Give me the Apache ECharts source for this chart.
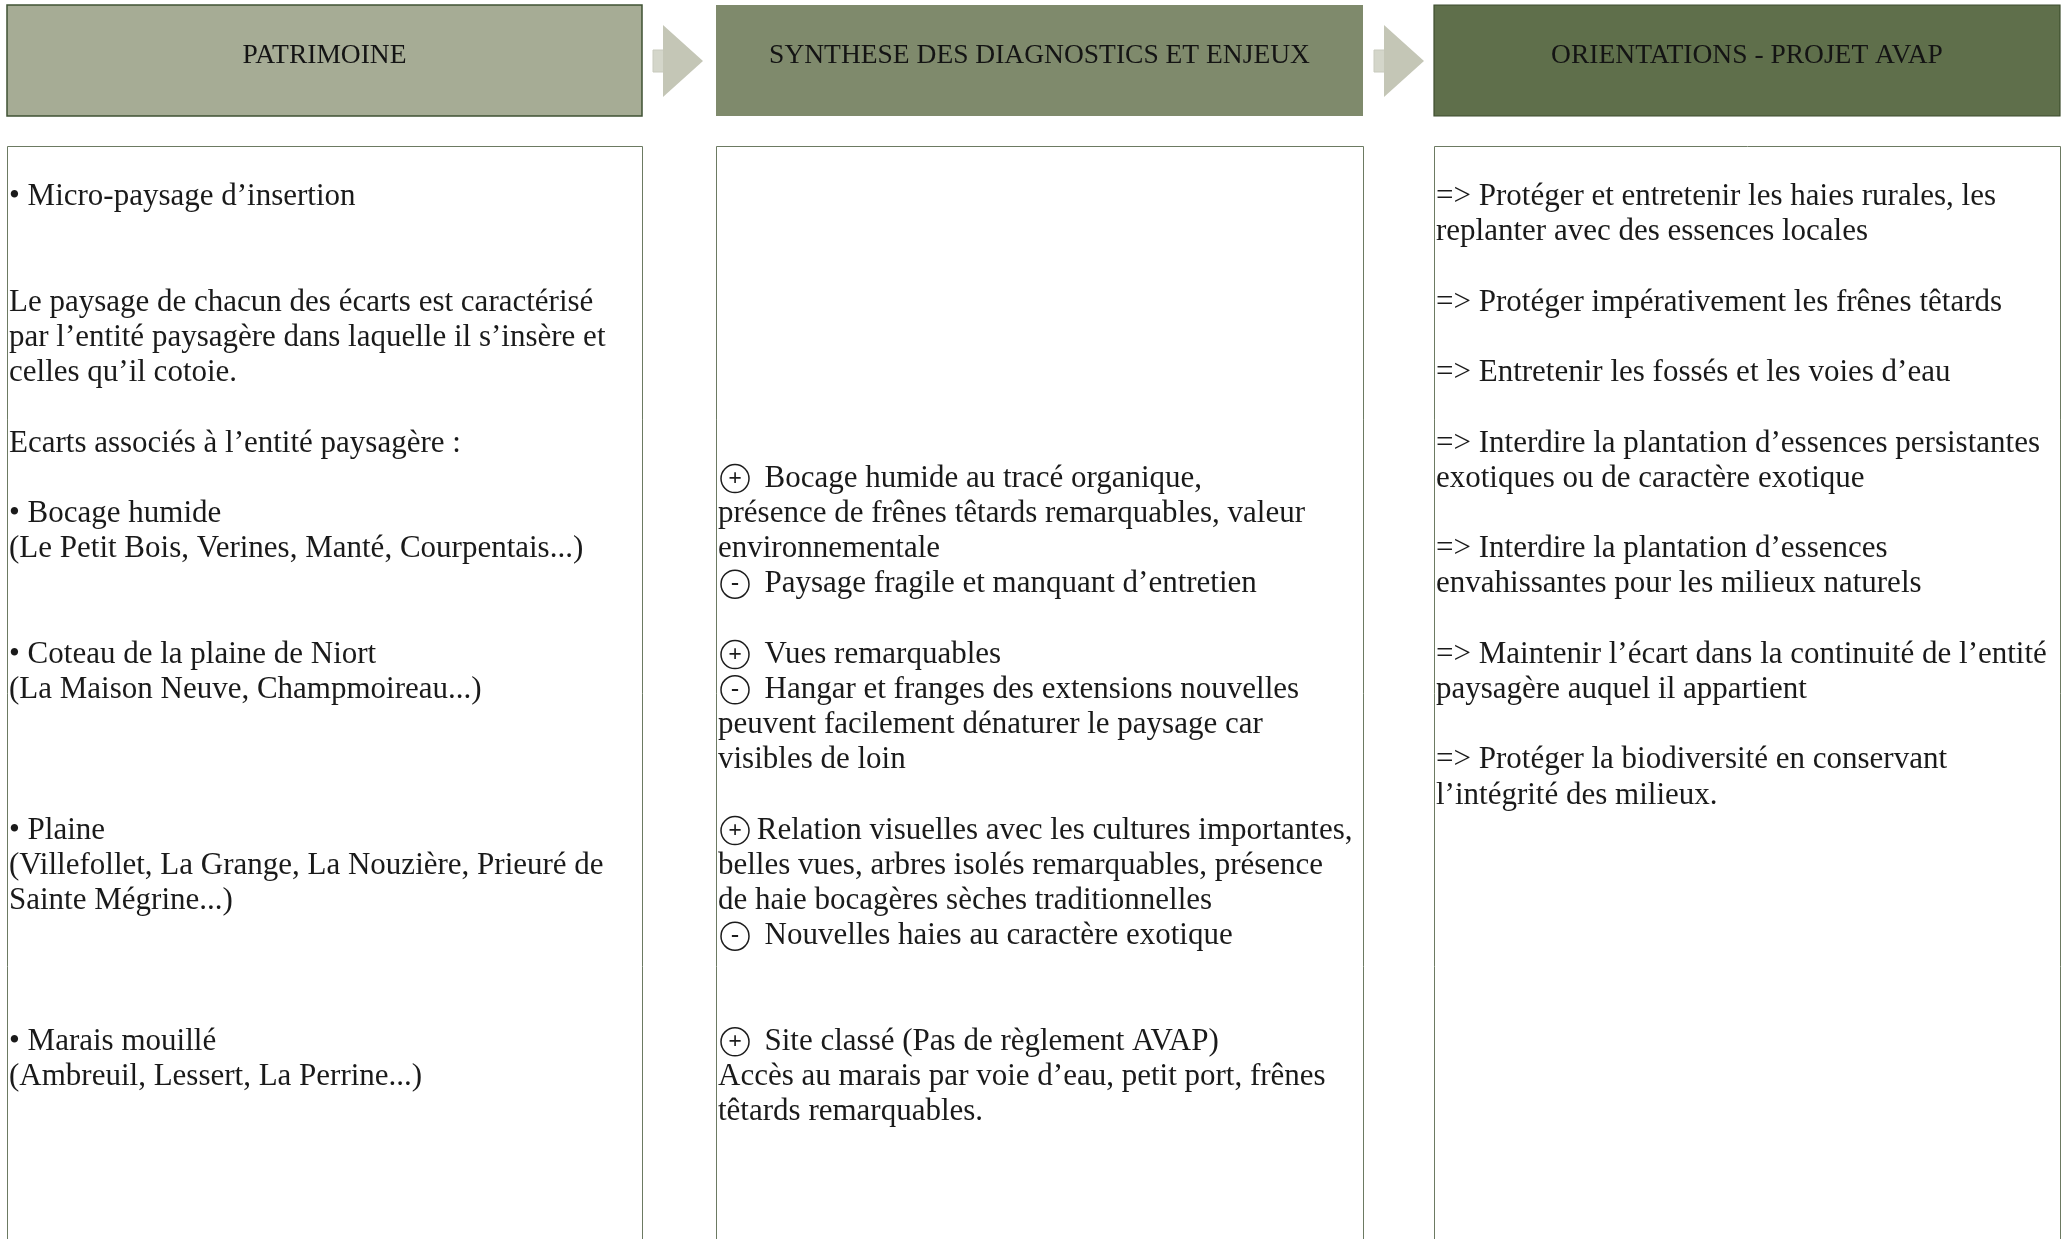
<!DOCTYPE html>
<html>
<head>
<meta charset="utf-8">
<script src="https://cdn.jsdelivr.net/npm/echarts@6/dist/echarts.min.js"></script>
<style>
html,body{margin:0;padding:0;background:#ffffff;}
#chart{width:2067px;height:1239px;}
</style>
</head>
<body>
<div id="chart"></div>
<script>
// ---- content ----
const headers = ['PATRIMOINE', 'SYNTHESE DES DIAGNOSTICS ET ENJEUX', 'ORIENTATIONS - PROJET AVAP'];

const patrimoineLines = [
  '• Micro-paysage d’insertion',
  '',
  '',
  'Le paysage de chacun des écarts est caractérisé',
  'par l’entité paysagère dans laquelle il s’insère et',
  'celles qu’il cotoie.',
  '',
  'Ecarts associés à l’entité paysagère :',
  '',
  '• Bocage humide',
  '(Le Petit Bois, Verines, Manté, Courpentais...)',
  '',
  '',
  '• Coteau de la plaine de Niort',
  '(La Maison Neuve, Champmoireau...)',
  '',
  '',
  '',
  '• Plaine',
  '(Villefollet, La Grange, La Nouzière, Prieuré de',
  'Sainte Mégrine...)',
  '',
  '',
  '',
  '• Marais mouillé',
  '(Ambreuil, Lessert, La Perrine...)'
];

const syntheseLines = [
  '', '', '', '', '', '', '', '',
  '(+)  Bocage humide au tracé organique,',
  'présence de frênes têtards remarquables, valeur',
  'environnementale',
  '(-)  Paysage fragile et manquant d’entretien',
  '',
  '(+)  Vues remarquables',
  '(-)  Hangar et franges des extensions nouvelles',
  'peuvent facilement dénaturer le paysage car',
  'visibles de loin',
  '',
  '(+) Relation visuelles avec les cultures importantes,',
  'belles vues, arbres isolés remarquables, présence',
  'de haie bocagères sèches traditionnelles',
  '(-)  Nouvelles haies au caractère exotique',
  '',
  '',
  '(+)  Site classé (Pas de règlement AVAP)',
  'Accès au marais par voie d’eau, petit port, frênes',
  'têtards remarquables.'
];

const orientationLines = [
  '=> Protéger et entretenir les haies rurales, les',
  'replanter avec des essences locales',
  '',
  '=> Protéger impérativement les frênes têtards',
  '',
  '=> Entretenir les fossés et les voies d’eau',
  '',
  '=> Interdire la plantation d’essences persistantes',
  'exotiques ou de caractère exotique',
  '',
  '=> Interdire la plantation d’essences',
  'envahissantes pour les milieux naturels',
  '',
  '=> Maintenir l’écart dans la continuité de l’entité',
  'paysagère auquel il appartient',
  '',
  '=> Protéger la biodiversité en conservant',
  'l’intégrité des milieux.'
];

const columnLines = [patrimoineLines, syntheseLines, orientationLines];

// ---- layout / style ----
const FONT = '"Liberation Serif", "DejaVu Serif", serif';
const cols = [
  {x: 7, w: 635, fill: '#a6ac95', stroke: '#3f5233', lw: 1.5},
  {x: 716, w: 647, fill: '#7f8a6c', stroke: '#7f8a6c', lw: 0},
  {x: 1434, w: 626, fill: '#5f6f4b', stroke: '#3d4d2e', lw: 1.2}
];
const HEAD_Y = 5, HEAD_H = 111;
const BOX_Y = 146, BOX_H = 1120;
const ROW0 = 197, PITCH = 35.2;

const chart = echarts.init(document.getElementById('chart'), null, {renderer: 'canvas'});
const elements = [];

cols.forEach((c, i) => {
  elements.push({
    type: 'rect', shape: {x: c.x, y: HEAD_Y, width: c.w, height: HEAD_H},
    style: {fill: c.fill, stroke: c.lw ? c.stroke : null, lineWidth: c.lw}
  });
  elements.push({
    type: 'text', x: c.x + c.w / 2, y: 56,
    style: {text: headers[i], font: '27.5px ' + FONT, fill: '#141414', align: 'center', verticalAlign: 'middle'}
  });
  elements.push({
    type: 'rect', shape: {x: c.x + 0.5, y: BOX_Y + 0.5, width: c.w, height: BOX_H},
    style: {fill: '#ffffff', stroke: '#6c7a62', lineWidth: 1}
  });
});

// arrows between headers
[0, 1].forEach(i => {
  const gapStart = cols[i].x + cols[i].w;
  const sx = gapStart + 11;
  elements.push({
    type: 'rect', shape: {x: sx, y: 50, width: 11, height: 22},
    style: {fill: '#d4d6ca', stroke: '#c8cabd', lineWidth: 1}
  });
  elements.push({
    type: 'polygon', shape: {points: [[sx + 10, 25], [sx + 50, 61], [sx + 10, 97]]},
    style: {fill: '#c4c6b6'}
  });
});

const markerStyle = {
  width: 28, height: 28, borderRadius: 14, borderColor: '#1c1c1c', borderWidth: 1.5,
  align: 'center', verticalAlign: 'middle', fontSize: 24, lineHeight: 28,
  fontFamily: FONT, fontWeight: 'bold', fill: '#1c1c1c'
};

columnLines.forEach((lines, ci) => {
  const c = cols[ci];
  lines.forEach((line, r) => {
    if (!line) return;
    let text = line, x = c.x + 2;
    const m = line.match(/^\((\+|-)\)(.*)$/);
    if (m) {
      text = '{' + (m[1] === '+' ? 'pl' : 'mi') + '|' + (m[1] === '+' ? '+' : '-') + '}' + m[2];
      x = c.x + 5;
    }
    elements.push({
      type: 'text', x: x, y: ROW0 + r * PITCH,
      style: {
        text: text, font: '31px ' + FONT, fill: '#1a1a1a', align: 'left', verticalAlign: 'middle',
        rich: {pl: markerStyle, mi: markerStyle}
      }
    });
  });
});

chart.setOption({animation: false, graphic: {elements: elements}});
</script>
</body>
</html>
